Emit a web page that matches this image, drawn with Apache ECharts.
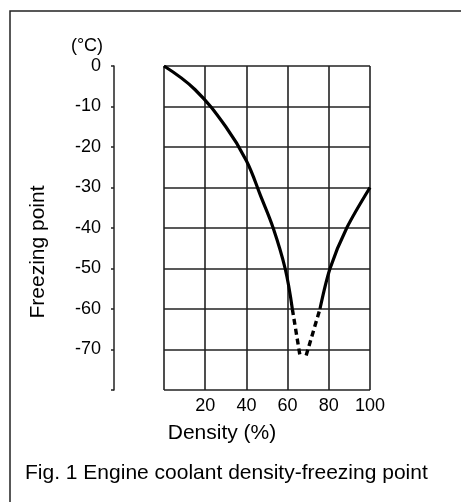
<!DOCTYPE html>
<html>
<head>
<meta charset="utf-8">
<script src="https://cdn.jsdelivr.net/npm/echarts@6/dist/echarts.min.js"></script>
<style>
html, body { margin: 0; padding: 0; background: #fff; }
#chart { width: 461px; height: 502px; }
</style>
</head>
<body>
<div id="chart"></div>
<script>
// freezing point curve (density %, degC)
const leftCurve = [[0, 0], [15, -5.8], [30, -15], [40, -23.4], [47, -32.2], [53, -40], [58.8, -50], [62.3, -60]]
const dashedPart = [[62.3, -60], [66, -71.5], '-', [69, -71.5], [75.7, -60]]
const rightCurve = [[75.7, -60], [80.6, -50], [88.7, -40], [100, -30]]

const xTicks = [0, 20, 40, 60, 80, 100]
const yTicks = [0, -10, -20, -30, -40, -50, -60, -70, -80]

const font = '"Liberation Sans", Arial, sans-serif'
const ink = '#000'

let chart = echarts.init(document.getElementById('chart'))

chart.setOption({
	animation: false,
	backgroundColor: '#fff',
	grid: {
		left: 164,
		right: 91,
		top: 66,
		bottom: 112,
	},
	xAxis: {
		type: 'value',
		min: xTicks[0],
		max: xTicks[xTicks.length - 1],
		interval: 20,
		axisLine: { show: false },
		axisTick: { show: false },
		axisLabel: {
			margin: 7,
			fontSize: 18,
			fontFamily: font,
			color: ink,
			formatter: function (v) {
				return v === 0 ? '' : String(v)
			},
		},
		splitLine: {
			show: true,
			lineStyle: { color: '#222', width: 1.6 },
		},
	},
	yAxis: {
		type: 'value',
		min: yTicks[yTicks.length - 1],
		max: yTicks[0],
		interval: 10,
		offset: 50,
		axisLine: {
			show: true,
			onZero: false,
			lineStyle: { color: '#222', width: 1.5 },
		},
		axisTick: {
			show: true,
			length: 3,
			lineStyle: { color: '#222', width: 1.5 },
		},
		axisLabel: {
			margin: 13,
			fontSize: 18,
			fontFamily: font,
			color: ink,
			formatter: function (v) {
				return v === -80 ? '' : String(v)
			},
		},
		splitLine: {
			show: true,
			lineStyle: { color: '#222', width: 1.6 },
		},
	},
	series: [
		{
			type: 'line',
			data: leftCurve,
			smooth: 0.4,
			symbol: 'none',
			lineStyle: { color: ink, width: 3.2 },
		},
		{
			type: 'line',
			data: dashedPart,
			symbol: 'none',
			connectNulls: false,
			lineStyle: { color: ink, width: 3.4, type: [6, 4] },
		},
		{
			type: 'line',
			data: rightCurve,
			smooth: 0.3,
			symbol: 'none',
			lineStyle: { color: ink, width: 3.2 },
		},
	],
	graphic: [
		{
			type: 'rect',
			shape: { x: 10, y: 11, width: 470, height: 500 },
			style: { fill: 'none', stroke: '#222', lineWidth: 1.5 },
			silent: true,
		},
		{
			type: 'text',
			x: 87,
			y: 46,
			style: {
				text: '(°C)',
				font: '18px ' + font,
				fill: ink,
				align: 'center',
				verticalAlign: 'middle',
			},
		},
		{
			type: 'text',
			x: 38,
			y: 252,
			rotation: Math.PI / 2,
			style: {
				text: 'Freezing point',
				font: '21px ' + font,
				fill: ink,
				align: 'center',
				verticalAlign: 'middle',
			},
		},
		{
			type: 'text',
			x: 222,
			y: 433,
			style: {
				text: 'Density (%)',
				font: '21px ' + font,
				fill: ink,
				align: 'center',
				verticalAlign: 'middle',
			},
		},
		{
			type: 'text',
			x: 25,
			y: 473,
			style: {
				text: 'Fig. 1 Engine coolant density-freezing point',
				font: '21px ' + font,
				fill: ink,
				align: 'left',
				verticalAlign: 'middle',
			},
		},
	],
})
</script>
</body>
</html>
